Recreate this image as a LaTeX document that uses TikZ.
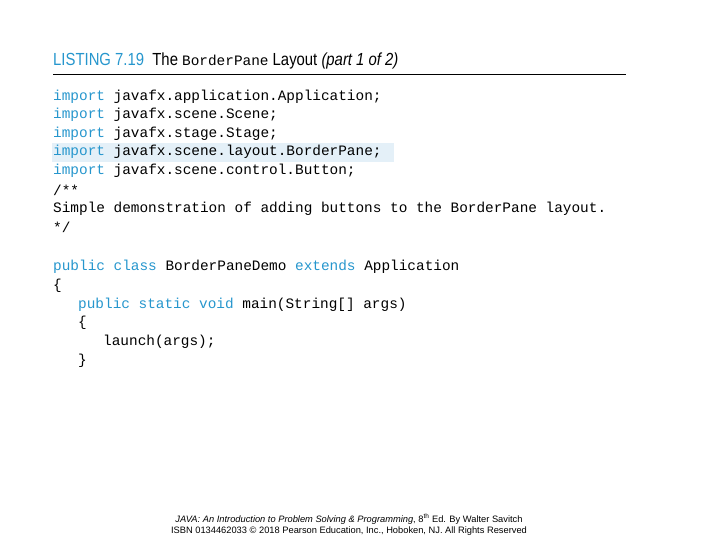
\documentclass[tikz,border=0pt]{standalone}
\usepackage{fontspec}
\setmainfont{Liberation Sans}
\setmonofont{Liberation Mono}
\newfontfamily\narrowfont[FakeStretch=0.85]{Liberation Sans}
\definecolor{kwblue}{RGB}{38,150,205}
\definecolor{hlblue}{RGB}{228,240,248}
\begin{document}
\begin{tikzpicture}[x=1pt,y=-1pt,
		code/.style={anchor=west,inner sep=0pt,font=\fontsize{14.4}{16}\ttfamily},
		foot/.style={inner sep=0pt,font=\fontsize{9.3}{11}\selectfont}
		]
		\newcommand{\kw}[1]{\textcolor{kwblue}{#1}}
		\useasboundingbox (0,0) rectangle (720,540);
		
		% title
		\node[anchor=west,inner sep=0pt,font=\fontsize{17.5}{20}\narrowfont] (title) at (53,61)
		{\kw{LISTING 7.19}\ \ The {\fontsize{14.4}{16}\ttfamily BorderPane} Layout \textit{(part 1 of 2)}};
		\draw[line width=0.8pt] (53,74) -- (626,74);
		
		% highlighted line
		\fill[hlblue] (52,143) rectangle (394,162);
		
		% code
		\node[code] (l1) at (53,97) {\kw{import} javafx.application.Application;};
		\node[code] (l2) at (53,115) {\kw{import} javafx.scene.Scene;};
		\node[code] (l3) at (53,134) {\kw{import} javafx.stage.Stage;};
		\node[code] (l4) at (53,152) {\kw{import} javafx.scene.layout.BorderPane;};
		\node[code] (l5) at (53,171) {\kw{import} javafx.scene.control.Button;};
		\node[code] (l6) at (53,190) {/**};
		\node[code] (l7) at (53,209) {Simple demonstration of adding buttons to the BorderPane layout.};
		\node[code] (l8) at (53,227) {*/};
		\node[code] (l9) at (53,267) {\kw{public class} BorderPaneDemo \kw{extends} Application};
		\node[code] (l10) at (53,286) {\{};
		\node[code] (l11) at (78,305) {\kw{public static void} main(String[] args)};
		\node[code] (l12) at (78,323) {\{};
		\node[code] (l13) at (103,342) {launch(args);};
		\node[code] (l14) at (78,361) {\}};
		
		% footer
		\node[foot] (f1) at (349,519) {\textit{JAVA: An Introduction to Problem Solving \& Programming}, 8\textsuperscript{th} Ed. By Walter Savitch};
		\node[foot] (f2) at (349,531) {ISBN 0134462033 © 2018 Pearson Education, Inc., Hoboken, NJ. All Rights Reserved};
\end{tikzpicture}
\end{document}
